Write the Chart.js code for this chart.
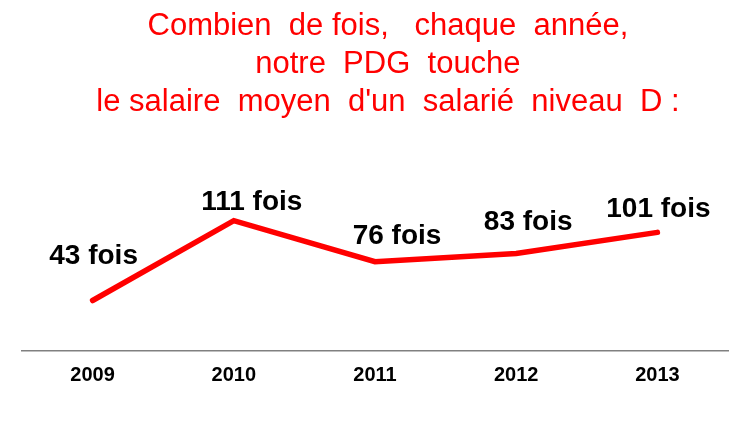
<!DOCTYPE html>
<html lang="fr">
<head>
<meta charset="utf-8">
<title>Salaire PDG</title>
<script src="https://cdn.jsdelivr.net/npm/chart.js@4/dist/chart.umd.min.js"></script>
<style>
  html, body { margin: 0; padding: 0; background: #fff; }
  #wrap { width: 750px; height: 427px; position: relative; }
</style>
</head>
<body>
<div id="wrap"><canvas id="chart"></canvas></div>
<script>
const years = ['2009', '2010', '2011', '2012', '2013'];
const ratios = [43, 111, 76, 83, 101];
const pointLabels = ['43 fois', '111 fois', '76 fois', '83 fois', '101 fois'];
const titleLines = [
  'Combien  de fois,   chaque  année,',
  'notre  PDG  touche',
  'le salaire  moyen  d\'un  salarié  niveau  D :'
];

// where each label sits relative to its point (baseline of text)
const labelShift = [[1, -37], [18, -11], [22, -18], [12, -24], [1, -15]];

const labelPlugin = {
  id: 'foisLabels',
  afterDatasetsDraw(chart) {
    const ctx = chart.ctx;
    const meta = chart.getDatasetMeta(0);
    ctx.save();
    ctx.font = 'bold 28px "Liberation Sans", Arial, sans-serif';
    ctx.fillStyle = '#000';
    ctx.textAlign = 'center';
    ctx.textBaseline = 'alphabetic';
    meta.data.forEach((pt, i) => {
      ctx.fillText(pointLabels[i], pt.x + labelShift[i][0], pt.y + labelShift[i][1]);
    });
    ctx.restore();
  }
};

const pad = '\u00a0\u00a0\u00a0';

new Chart(document.getElementById('chart').getContext('2d'), {
  type: 'line',
  data: {
    labels: years,
    datasets: [{
      data: ratios,
      borderColor: '#ff0000',
      borderWidth: 5.5,
      borderCapStyle: 'round',
      pointRadius: 0,
      tension: 0,
      fill: false
    }]
  },
  options: {
    responsive: true,
    maintainAspectRatio: false,
    animation: false,
    layout: { padding: { left: 22, right: 22, top: 0, bottom: 28 } },
    plugins: {
      legend: { display: false },
      tooltip: { enabled: false },
      title: {
        display: true,
        text: titleLines.map(t => pad + t),
        color: '#ff0000',
        font: { family: '"Liberation Sans", Arial, sans-serif', size: 31, weight: 'normal', lineHeight: 1.235 },
        padding: { top: 7, bottom: 53 }
      }
    },
    scales: {
      x: {
        offset: true,
        grid: { display: false, drawTicks: false },
        border: { display: true, color: '#808080', width: 1.5 },
        ticks: {
          color: '#000',
          padding: 12,
          font: { family: '"Liberation Sans", Arial, sans-serif', size: 20, weight: 'bold' }
        }
      },
      y: {
        display: false,
        min: 0,
        max: 150
      }
    }
  },
  plugins: [labelPlugin]
});
</script>
</body>
</html>
